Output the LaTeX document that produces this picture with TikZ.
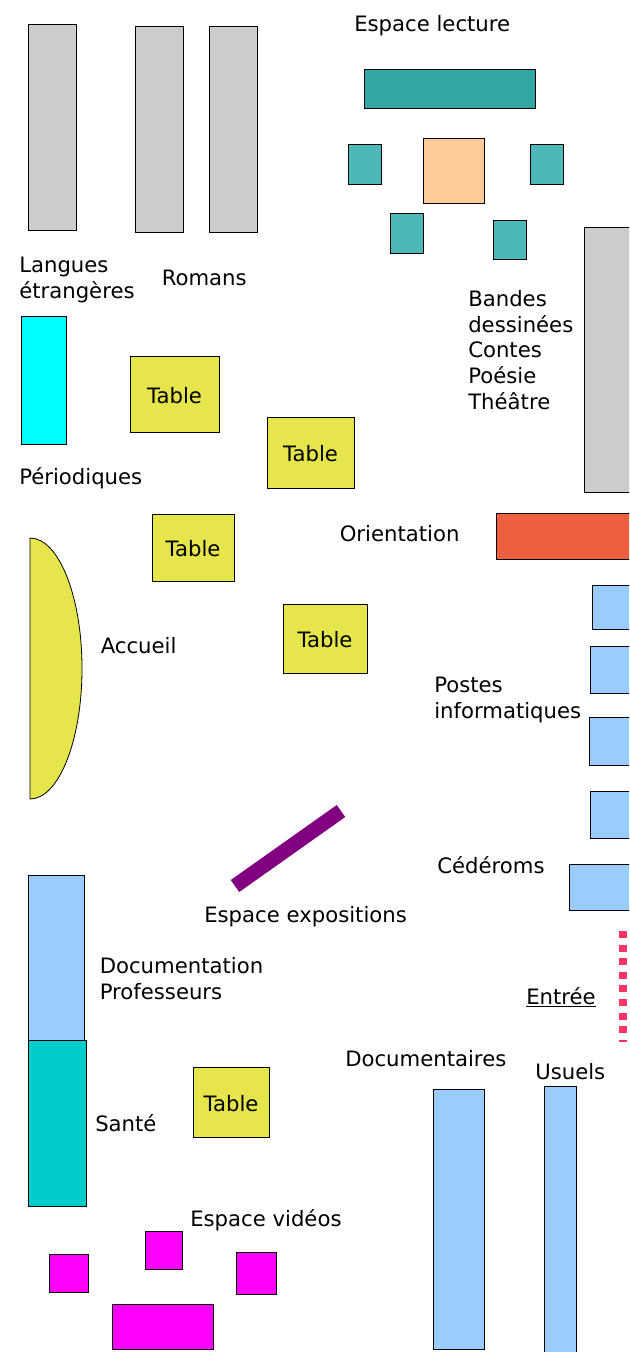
\documentclass[tikz,border=0pt]{standalone}
\usepackage{fontspec}
\setmainfont{DejaVu Sans}

\definecolor{gris}{HTML}{CCCCCC}
\definecolor{tealfonce}{HTML}{33A6A6}
\definecolor{tealclair}{HTML}{4DB8B8}
\definecolor{peche}{HTML}{FFCC99}
\definecolor{jaune}{HTML}{E6E64C}
\definecolor{orangebox}{HTML}{EE6040}
\definecolor{bleu}{HTML}{99CCFF}
\definecolor{sante}{HTML}{00CCCC}
\definecolor{rose}{HTML}{FF3366}
\definecolor{cyanbox}{HTML}{00FFFF}
\definecolor{magentabox}{HTML}{FF00FF}
\definecolor{violetbox}{HTML}{800080}

\tikzset{
  meuble/.style={draw=black, line width=0.6pt},
  etiquette/.style={anchor=base west, inner sep=0pt, align=left,
    font=\fontsize{15.9pt}{19.2pt}\selectfont},
}

\begin{document}
\begin{tikzpicture}[x=0.75pt, y=-0.75pt]

    \useasboundingbox (0,0) rectangle (629,1352);
    \clip (0,0) rectangle (629,1352);

    % rayonnages
    \foreach \a/\b/\c/\d in {28/24/76.6/230.6, 135/26/183.6/232.6, 209/26/257.6/232.6, 584/227/632/492.6}
    \draw[meuble, fill=gris] (\a,\b) rectangle (\c,\d);

    % espace lecture
    \draw[meuble, fill=tealfonce] (364,69) rectangle (535,108);
    \foreach \a/\b/\c/\d in {348/144/381/184, 530/144/563/184, 390/213/423/253, 493/220/526/259}
    \draw[meuble, fill=tealclair] (\a,\b) rectangle (\c,\d);
    \draw[meuble, fill=peche] (423,138) rectangle (484,203);

    \draw[meuble, fill=cyanbox] (21,316) rectangle (66,444);
    \draw[meuble, fill=orangebox] (496,513) rectangle (632,559);

    % tables
    \foreach \a/\b/\c/\d in {130/356/219/432, 267/417/354/488, 152/514/234/581, 283/604/367/673, 193/1067/269/1137}
    \draw[meuble, fill=jaune] (\a,\b) rectangle (\c,\d)
      node[midway, yshift=-1pt, font=\fontsize{15.9pt}{19pt}\selectfont] {Table};

    % accueil
    \draw[meuble, fill=jaune] (30,538) arc (-90:90:52 and 130.5) -- cycle;

    % postes et documentaires
    \foreach \a/\b/\c/\d in {592/585/632/629, 590/646/632/693, 589/717/632/765, 590/791/632/838, 569/864/632/910, 28/875/84/1041, 433/1089/484/1349, 544/1086/576/1356}
    \draw[meuble, fill=bleu] (\a,\b) rectangle (\c,\d);
    \draw[meuble, fill=sante] (28,1040) rectangle (86,1206);

    % videos
    \foreach \a/\b/\c/\d in {49/1254/88/1292, 145/1231/182/1269, 236/1252/276/1294, 112/1304/213/1349}
    \draw[meuble, fill=magentabox] (\a,\b) rectangle (\c,\d);

    \coordinate (expoA) at (235,886);
    \coordinate (expoB) at (341,811);
    \draw[line width=11pt, violetbox] (expoA) -- (expoB);

    \coordinate (porteA) at (623,931);
    \coordinate (porteB) at (623,1042);
    \draw[rose, line width=6pt, dash pattern=on 5.2pt off 5pt] (porteA) -- (porteB);

    % textes
    \node[etiquette] (lecture) at (354,32) {Espace lecture};
    \node[etiquette] (langues) at (19,298.5) {Langues\\étrangères};
    \node[etiquette] (romans) at (161.5,285) {Romans};
    \node[etiquette] (bandes) at (468,409) {Bandes\\dessinées\\Contes\\Poésie\\Théâtre};
    \node[etiquette] (periodiques) at (19,484) {Périodiques};
    \node[etiquette] (orientation) at (339.5,541) {Orientation};
    \node[etiquette] (accueil) at (100.5,653) {Accueil};
    \node[etiquette] (postes) at (434,718) {Postes\\informatiques};
    \node[etiquette] (cederoms) at (437,873) {Cédéroms};
    \node[etiquette] (expositions) at (204,922) {Espace expositions};
    \node[etiquette] (documentation) at (99.5,999.5) {Documentation\\Professeurs};
    \node[etiquette] (entree) at (526,1004) {\underline{Entrée}};
    \node[etiquette] (documentaires) at (345,1066) {Documentaires};
    \node[etiquette] (usuels) at (535,1079) {Usuels};
    \node[etiquette] (santetxt) at (95,1131) {Santé};
    \node[etiquette] (videos) at (190,1226) {Espace vidéos};

  \end{tikzpicture}
\end{document}
